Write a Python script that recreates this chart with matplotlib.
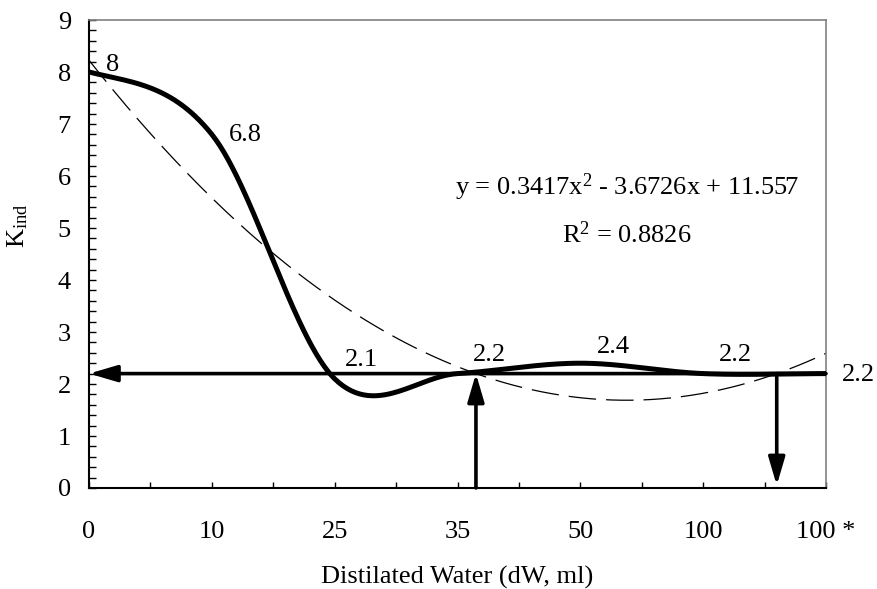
import numpy as np
import matplotlib.pyplot as plt
from matplotlib.ticker import MultipleLocator

plt.rcParams['font.family'] = 'Liberation Serif'
plt.rcParams['mathtext.fontset'] = 'custom'
plt.rcParams['mathtext.rm'] = 'Liberation Serif'
plt.rcParams['mathtext.it'] = 'Liberation Serif:italic'

# data
categories = ['0', '10', '25', '35', '50', '100', '100 *']
k_ind = [8, 6.8, 2.1, 2.2, 2.4, 2.2, 2.2]
level = 2.2

# label offsets in pixels (dx, dy)
label_offsets = [(24, 7), (34, -1), (27, 19), (32, 19), (33, 16), (32, 19), (32, -1)]

n = len(k_ind)
idx = np.arange(1, n + 1)          # Excel category index 1..7
pos = (idx - 1) * 2                # axis position (ticks between categories)

# quadratic trendline like Excel
coef = np.polyfit(idx, k_ind, 2)
r2 = 1 - np.sum((np.polyval(coef, idx) - k_ind) ** 2) / np.sum((np.array(k_ind) - np.mean(k_ind)) ** 2)


# smoothed line (Catmull-Rom, like Excel's smoothed line)
def smooth(y, steps=60):
    y = np.asarray(y, dtype=float)
    ext = np.concatenate([[y[0]], y, [y[-1]]])
    xs, ys = [], []
    for i in range(len(y) - 1):
        p0, p1 = ext[i + 1], ext[i + 2]
        m0 = (ext[i + 2] - ext[i]) / 2
        m1 = (ext[i + 3] - ext[i + 1]) / 2
        t = np.linspace(0, 1, steps)
        h00 = 2 * t**3 - 3 * t**2 + 1
        h10 = t**3 - 2 * t**2 + t
        h01 = -2 * t**3 + 3 * t**2
        h11 = t**3 - t**2
        xs.append(i + t)
        ys.append(h00 * p0 + h10 * m0 + h01 * p1 + h11 * m1)
    return np.concatenate(xs), np.concatenate(ys)


sx, sy = smooth(k_ind)

fig = plt.figure(figsize=(8.77, 5.89), dpi=100)
ax = fig.add_axes([89 / 877, 1 - 488 / 589, 737 / 877, 468 / 589])

# trendline
tx = np.linspace(1, n, 300)
ax.plot((tx - 1) * 2, np.polyval(coef, tx), color='black', lw=0.9, dashes=(22, 8), zorder=2)

# main curve
ax.plot(sx * 2, sy, color='black', lw=3.6, zorder=4, solid_capstyle='butt')

# intersections of trendline with the level
roots = np.sort(np.roots([coef[0], coef[1], coef[2] - level]).real)
xr = (roots - 1) * 2

arrow = dict(arrowstyle='-|>,head_length=1.7,head_width=0.5', color='black',
             lw=2.6, shrinkA=0, shrinkB=0, mutation_scale=10)
ax.annotate('', xy=(0, level), xytext=(pos[-1], level), arrowprops=arrow, zorder=3)
ax.annotate('', xy=(xr[0], level), xytext=(xr[0], 0), arrowprops=arrow, zorder=3)
ax.annotate('', xy=(xr[1], 0.05), xytext=(xr[1], level), arrowprops=arrow, zorder=3)

# data labels
for p, v, (dx, dy) in zip(pos, k_ind, label_offsets):
    ax.annotate(f'{v:g}', xy=(p, v), xytext=(dx, dy), textcoords='offset pixels',
                ha='center', va='center', fontsize=19, annotation_clip=False, zorder=5)

# equation
ax.text(0.73, 0.643, r'y = %.4fx$\mathregular{^2}$ - %.4fx + %.3f' % (coef[0], -coef[1], coef[2]),
        transform=ax.transAxes, ha='center', va='center', fontsize=19)
ax.text(0.73, 0.541, r'R$\mathregular{^2}$ = %.4f' % r2,
        transform=ax.transAxes, ha='center', va='center', fontsize=19)

ax.set_xlim(0, 12)
ax.set_ylim(0, 9)
ax.set_xticks(range(13))
ax.set_xticklabels([categories[i // 2] if i % 2 == 0 else '' for i in range(13)], fontsize=19)
ax.set_yticks(range(10))
ax.yaxis.set_minor_locator(MultipleLocator(0.2))
ax.tick_params(axis='x', direction='in', length=4.5, width=1, pad=24, top=False)
ax.tick_params(axis='y', which='both', direction='in', length=5, width=1, pad=13,
               labelsize=19, right=False)

for s in ['left', 'bottom']:
    ax.spines[s].set_linewidth(1.5)
for s in ['top', 'right']:
    ax.spines[s].set_color('#808080')
    ax.spines[s].set_linewidth(1.2)

ax.set_xlabel('Distilated Water (dW, ml)', fontsize=19, labelpad=16)
ax.set_ylabel(r'$\mathregular{K_{ind}}$', fontsize=19)
ax.yaxis.set_label_coords(-0.08, 0.56)

fig.savefig('out.png', dpi=100)
